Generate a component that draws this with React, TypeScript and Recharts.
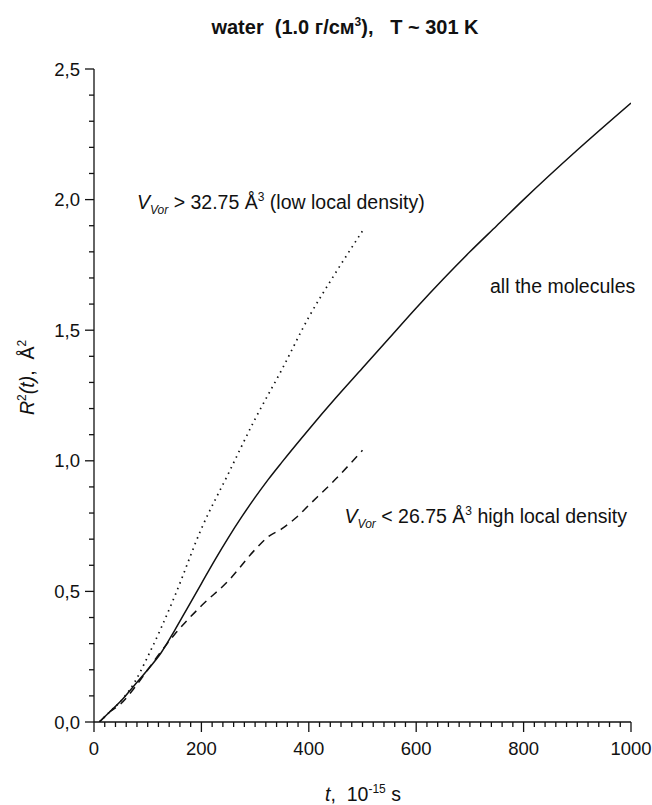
import { LineChart, Line, XAxis, YAxis } from 'recharts';

// time, 10^-15 s  /  mean square displacement, Å^2
const tAll = [10, 30, 50, 75, 100, 125, 150, 175, 200, 225, 250, 275, 300, 325, 350, 400, 450, 500, 550, 600, 650, 700, 750, 800, 900, 1000];
const r2All = [0, 0.04, 0.08, 0.14, 0.2, 0.265, 0.35, 0.44, 0.53, 0.62, 0.705, 0.785, 0.86, 0.93, 0.995, 1.12, 1.24, 1.355, 1.47, 1.585, 1.695, 1.8, 1.9, 2.0, 2.19, 2.37];

const tLow = [10, 30, 50, 75, 100, 125, 150, 200, 250, 300, 350, 400, 450, 500];
const r2Low = [0, 0.04, 0.08, 0.15, 0.25, 0.36, 0.48, 0.74, 0.95, 1.16, 1.35, 1.55, 1.72, 1.88];

const tHigh = [10, 30, 50, 75, 100, 125, 150, 200, 250, 300, 325, 350, 375, 400, 450, 500];
const r2High = [0, 0.04, 0.07, 0.13, 0.2, 0.27, 0.335, 0.445, 0.54, 0.66, 0.71, 0.74, 0.78, 0.83, 0.93, 1.04];

const xMajor = [0, 200, 400, 600, 800, 1000];
const xTicks = Array.from({ length: 51 }, (_, i) => i * 20);
const yMajor = [0, 0.5, 1.0, 1.5, 2.0, 2.5];
const yTicks = Array.from({ length: 26 }, (_, i) => i / 10);

const toRows = (ts: number[], vs: number[]) => ts.map((t, i) => ({ t, r2: vs[i] }));

const FONT = '"Liberation Sans", Arial, sans-serif';
const INK = '#111';
const PRE = { whiteSpace: 'pre' } as const;

const isMajor = (list: number[], v: number) => list.some((m) => Math.abs(m - v) < 1e-6);

function XTick({ x, y, payload }: any) {
  const major = isMajor(xMajor, payload.value);
  return (
    <g>
      <line x1={x} x2={x} y1={y} y2={y + (major ? 10 : 5)} stroke={INK} strokeWidth={1.3} />
      {major && (
        <text x={x} y={y + 33} textAnchor="middle" fontSize={18.5} fontFamily={FONT} fill={INK}>
          {payload.value}
        </text>
      )}
    </g>
  );
}

function YTick({ x, y, payload }: any) {
  const major = isMajor(yMajor, payload.value);
  return (
    <g>
      <line x1={x - (major ? 9 : 5)} x2={x} y1={y} y2={y} stroke={INK} strokeWidth={1.3} />
      {major && (
        <text x={x - 14} y={y + 6.6} textAnchor="end" fontSize={18.5} fontFamily={FONT} fill={INK}>
          {payload.value.toFixed(1).replace('.', ',')}
        </text>
      )}
    </g>
  );
}

export default function App() {
  const W = 652;
  const H = 805;
  return (
    <div style={{ position: 'absolute', left: 0, top: 0, width: W, height: H, background: '#fff' }}>
      <LineChart width={W} height={H} margin={{ top: 69, right: 21, bottom: 0, left: 0 }}>
        <XAxis
          type="number"
          dataKey="t"
          domain={[0, 1000]}
          ticks={xTicks}
          interval={0}
          tick={<XTick />}
          tickLine={false}
          tickSize={0}
          tickMargin={0}
          height={83}
          axisLine={{ stroke: INK, strokeWidth: 1.3 }}
          allowDataOverflow
        />
        <YAxis
          type="number"
          domain={[0, 2.5]}
          ticks={yTicks}
          interval={0}
          tick={<YTick />}
          tickLine={false}
          tickSize={0}
          tickMargin={0}
          width={94}
          axisLine={{ stroke: INK, strokeWidth: 1.3 }}
          allowDataOverflow
        />
        <Line
          data={toRows(tAll, r2All)}
          dataKey="r2"
          type="monotone"
          stroke={INK}
          strokeWidth={1.5}
          dot={false}
          isAnimationActive={false}
        />
        <Line
          data={toRows(tLow, r2Low)}
          dataKey="r2"
          type="monotone"
          stroke={INK}
          strokeWidth={1.7}
          strokeDasharray="1.5 4.5"
          dot={false}
          isAnimationActive={false}
        />
        <Line
          data={toRows(tHigh, r2High)}
          dataKey="r2"
          type="monotone"
          stroke={INK}
          strokeWidth={1.5}
          strokeDasharray="8 6"
          dot={false}
          isAnimationActive={false}
        />
      </LineChart>

      {/* title, axis titles and curve notes */}
      <svg
        width={W}
        height={H}
        style={{ position: 'absolute', left: 0, top: 0, pointerEvents: 'none' }}
        fontFamily={FONT}
        fill={INK}
      >
        <text x={345} y={34} textAnchor="middle" fontSize={20} fontWeight="bold" style={PRE}>
          {'water  (1.0 г/см'}
          <tspan dy={-8} fontSize={12}>3</tspan>
          <tspan dy={8}>{'),   T ~ 301 K'}</tspan>
        </text>

        <text x={363} y={801} textAnchor="middle" fontSize={19.5} style={PRE}>
          <tspan fontStyle="italic">t</tspan>
          {',  10'}
          <tspan dy={-8} fontSize={12}>-15</tspan>
          <tspan dy={8}>{' s'}</tspan>
        </text>

        <text transform="translate(34, 415) rotate(-90)" fontSize={19.5} style={PRE}>
          <tspan fontStyle="italic">R</tspan>
          <tspan dy={-8} fontSize={12}>2</tspan>
          <tspan dy={8} fontStyle="italic">(t)</tspan>
          {',  Å'}
          <tspan dy={-8} fontSize={12}>2</tspan>
        </text>

        <text x={137} y={209} fontSize={19.5} style={PRE}>
          <tspan fontStyle="italic">V</tspan>
          <tspan dy={5} fontSize={12} fontStyle="italic">Vor</tspan>
          <tspan dy={-5}>{' > 32.75 Å'}</tspan>
          <tspan dy={-8} fontSize={12}>3</tspan>
          <tspan dy={8}>{' (low local density)'}</tspan>
        </text>

        <text x={490} y={293} fontSize={19.5} style={PRE}>
          all the molecules
        </text>

        <text x={627} y={523} textAnchor="end" fontSize={19.5} style={PRE}>
          <tspan fontStyle="italic">V</tspan>
          <tspan dy={5} fontSize={12} fontStyle="italic">Vor</tspan>
          <tspan dy={-5}>{' < 26.75 Å'}</tspan>
          <tspan dy={-8} fontSize={12}>3</tspan>
          <tspan dy={8}>{' high local density'}</tspan>
        </text>
      </svg>
    </div>
  );
}
